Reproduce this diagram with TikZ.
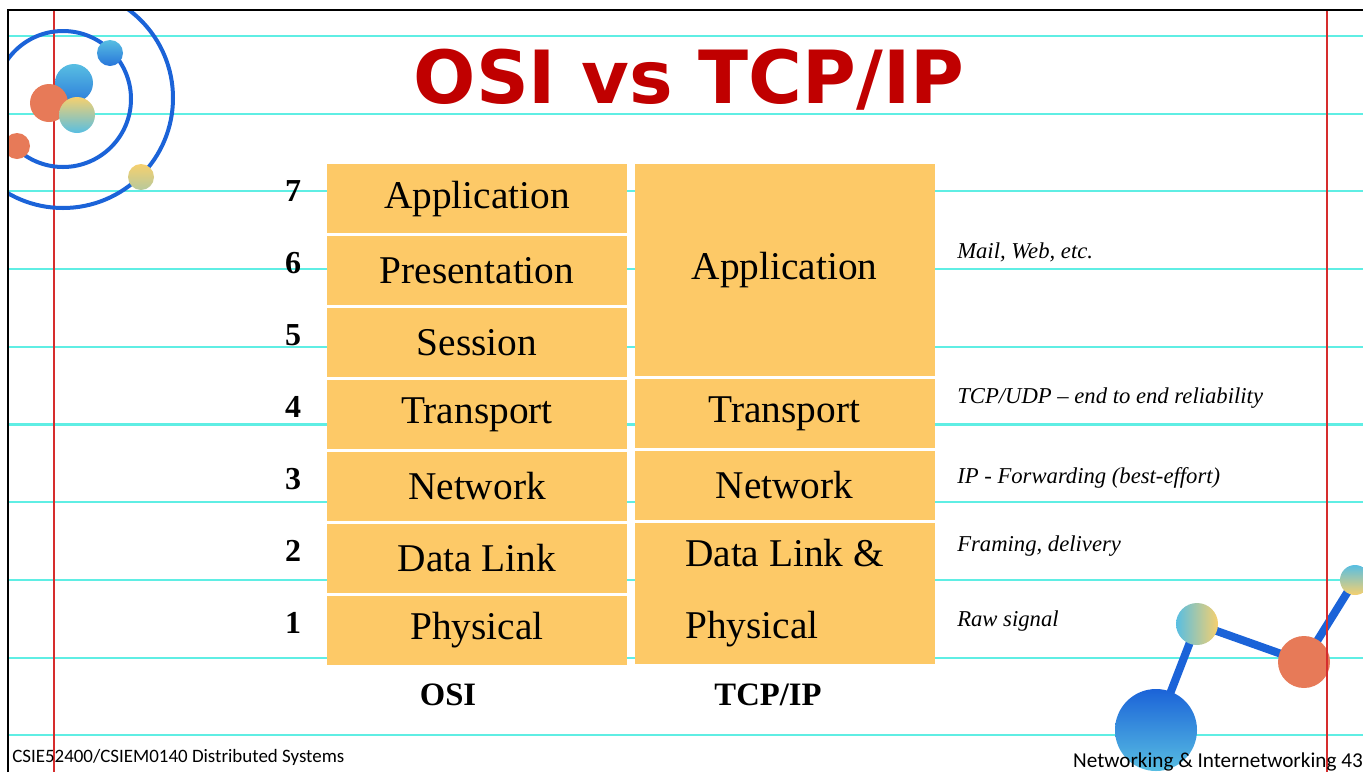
\documentclass[tikz,border=0pt]{standalone}
\usepackage{fontspec}
\setmainfont{Liberation Serif}
\newfontfamily\titlefont{DejaVu Sans}
\newfontfamily\footfont{Carlito}
\usetikzlibrary{positioning}

\definecolor{layerfill}{HTML}{FDC967}
\definecolor{ruleline}{RGB}{95,238,228}
\definecolor{marginred}{RGB}{214,45,45}
\definecolor{titlered}{HTML}{C00000}
\definecolor{orbitblue}{HTML}{1B63D8}
\definecolor{ballblue}{HTML}{58BEE2}
\definecolor{ballyellow}{HTML}{F6D06E}
\definecolor{ballorange}{HTML}{E77A58}

\begin{document}
\begin{tikzpicture}[x=0.75pt, y=-0.75pt,
  node distance=1.55pt,
  layer/.style={fill=layerfill, minimum width=225pt, minimum height=52pt, inner sep=0pt,
    font=\fontsize{29.5}{35}\selectfont},
  num/.style={font=\fontsize{24}{28}\selectfont\bfseries, inner sep=0pt},
  note/.style={font=\fontsize{17}{20}\selectfont\itshape, anchor=west, inner sep=0pt},
  colname/.style={font=\fontsize{24.5}{29}\selectfont\bfseries, inner sep=0pt},
  rule/.style={ruleline, line width=1.6pt},
  margin/.style={marginred, line width=1.1pt},
  orbit/.style={orbitblue, line width=3pt},
  bond/.style={orbitblue, line width=6pt}
]
\useasboundingbox (0,0) rectangle (1363,772);

% ruled paper
\begin{scope}
  \clip (8,10) rectangle (1363,772);
  \foreach \k in {0,...,8}
    \draw[rule] (8,36+77.7*\k) -- (1363,36+77.7*\k);
  \draw[rule] (8,657.6) -- (936,657.6);
  \draw[rule, dash pattern=on 9pt off 7pt] (958,657.6) -- (1185,657.6);
  \draw[rule] (1185,657.6) -- (1363,657.6);
  \draw[rule] (8,735.3) -- (1363,735.3);
  \draw[margin] (54,10) -- (54,772);

  % orbits with planets
  \draw[orbit] (63,99) circle (68);
  \draw[orbit] (63,98) circle (110);
  \shade[top color=ballblue, bottom color=orbitblue!80!ballblue] (110,53) circle (13);
  \shade[top color=ballblue, bottom color=orbitblue!70!ballblue] (74,83) circle (19);
  \fill[ballorange] (49,103) circle (19);
  \shade[top color=ballyellow, bottom color=ballblue] (77,115) circle (18);
  \fill[ballorange] (17,146) circle (13);
  \shade[top color=ballyellow, bottom color=ballyellow!60!ballblue] (141,177) circle (13);

  % molecule
  \coordinate (mbig) at (1156,730);
  \coordinate (mmid) at (1197,624);
  \coordinate (mred) at (1304,662);
  \coordinate (mtop) at (1355,580);
  \draw[bond] (mbig) -- (mmid) -- (mred) -- (mtop);
  \shade[shading angle=45, top color=orbitblue, bottom color=ballblue] (mbig) circle (41);
  \shade[shading angle=-45, left color=ballblue, right color=ballyellow] (mmid) circle (21);
  \fill[ballorange] (mred) circle (26);
  \shade[top color=ballblue, bottom color=ballyellow] (mtop) circle (15);
  \draw[margin] (1327,10) -- (1327,772);
\end{scope}

% slide frame
\draw[line width=2.2pt] (8,772) -- (8,10) -- (1363,10);

\node[font=\titlefont\fontsize{55}{66}\selectfont\bfseries, text=titlered] (title) at (689,80) {OSI vs TCP/IP};

% OSI stack
\node[layer] (osi7) at (477,198.7) {Application};
\node[layer, below=of osi7] (osi6) {Presentation};
\node[layer, below=of osi6] (osi5) {Session};
\node[layer, below=of osi5] (osi4) {Transport};
\node[layer, below=of osi4] (osi3) {Network};
\node[layer, below=of osi3] (osi2) {Data Link};
\node[layer, below=of osi2] (osi1) {Physical};

% TCP/IP stack
\node[layer, minimum height=159.2pt, right=5.25pt of osi7.north east, anchor=north west] (tcpapp) {Application};
\node[layer, below=of tcpapp] (tcptrans) {Transport};
\node[layer, below=of tcptrans] (tcpnet) {Network};
\node[layer, below=of tcpnet, minimum height=105.6pt, align=left,
  font=\fontsize{29.5}{53.5}\selectfont] (tcplink) {Data Link \&\\Physical};

% layer numbers
\foreach \n in {7,...,1}
  \node[num, left=19pt of osi\n, yshift=5.5pt] (n\n) {\n};

\node[colname] (osiname) at (448,695) {OSI};
\node[colname] (tcpname) at (768,695) {TCP/IP};

% what each layer does
\node[note] (mailnote) at (957,252) {Mail, Web, etc.};
\node[note] (tcpnote) at (957,398) {TCP/UDP -- end to end reliability};
\node[note] (ipnote) at (957,478) {IP - Forwarding (best-effort)};
\node[note] (framenote) at (957,546) {Framing, delivery};
\node[note] (rawnote) at (957,621) {Raw signal};

% footer
\node[font=\footfont\fontsize{14.2}{17}\selectfont, anchor=west, inner sep=0pt] (course) at (12,757) {CSIE52400/CSIEM0140 Distributed Systems};
\node[font=\footfont\fontsize{15.9}{19}\selectfont, anchor=east, inner sep=0pt] (pageno) at (1363,762) {Networking \& Internetworking 43};
\end{tikzpicture}
\end{document}
